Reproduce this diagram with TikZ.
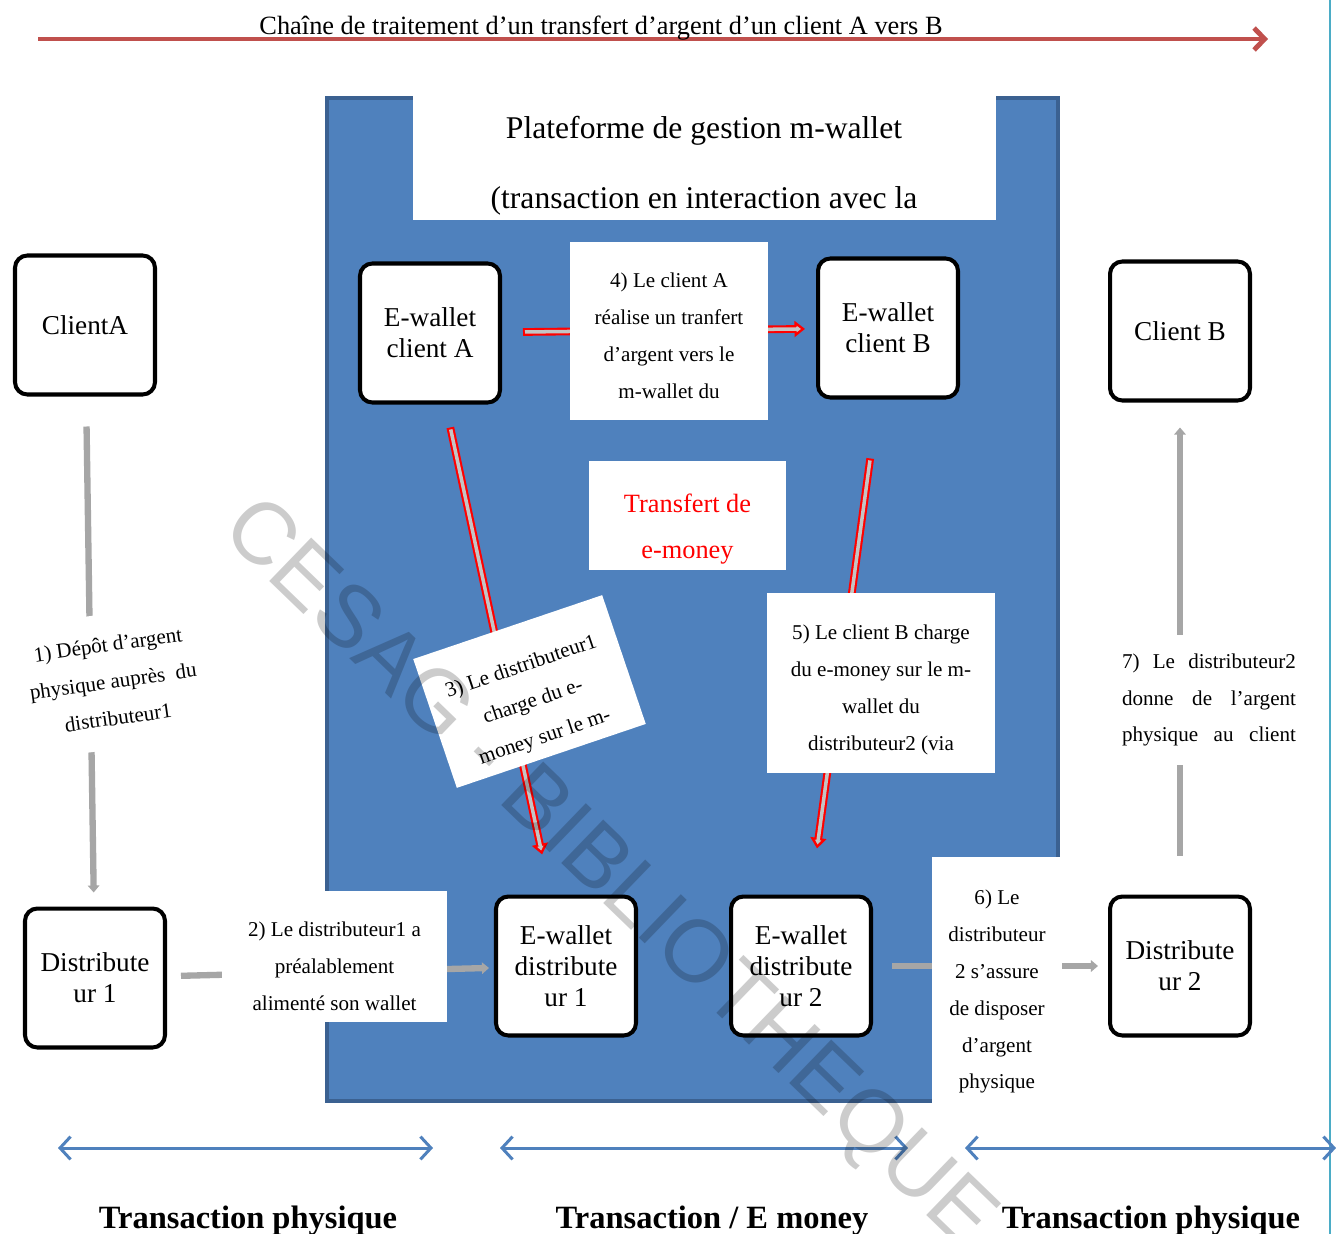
\documentclass[tikz,border=0pt]{standalone}
\usepackage{fontspec}
\setmainfont{Liberation Serif}
\newfontfamily\markfont{Liberation Sans}
\usepackage{xcolor}
\usepackage{tikz}
\usetikzlibrary{arrows.meta}

\definecolor{platblue}{HTML}{4F81BD}
\definecolor{platedge}{HTML}{3B6191}
\definecolor{chainred}{HTML}{C0504D}
\definecolor{linkgrey}{HTML}{A6A6A6}
\definecolor{innergrey}{HTML}{C4C4C4}
\definecolor{sidecyan}{HTML}{4BACC6}

\newcommand{\toppad}[1]{\rule{0pt}{#1}}

\tikzset{
  wbox/.style={draw=black, line width=2.3pt, rounded corners=7pt, fill=white,
    minimum width=2.8cm, minimum height=2.78cm, align=center,
    font=\fontsize{15.5}{17.5}\selectfont},
  stepbox/.style={fill=white, inner sep=0pt, align=center,
    font=\fontsize{12}{21}\selectfont},
  greyarrow/.style={draw=linkgrey, line width=3.6pt, -{Triangle[length=4pt,width=6.5pt]}},
  redout/.style={draw=red, line width=4.4pt, -{Triangle[length=6pt,width=9pt]}},
  redin/.style={draw=innergrey, line width=2pt, -{Triangle[length=2.5pt,width=3.5pt]}},
  chainarrow/.style={draw=chainred, line width=2.8pt, -{Straight Barb[length=6pt,width=12.5pt]}},
  spanarrow/.style={draw=platblue, line width=1.7pt,
    {Straight Barb[length=6pt,width=13pt]}-{Straight Barb[length=6pt,width=13pt]}},
  spanlabel/.style={font=\fontsize{18.5}{20}\selectfont\bfseries},
}

\begin{document}
\begin{tikzpicture}[x=0.02cm, y=-0.02cm]
\useasboundingbox (0,0) rectangle (1336,1234);
\fill[white] (0,0) rectangle (1336,1234);
\draw[sidecyan, line width=1.6pt] (1330,0) -- (1330,1234);

\coordinate (chainstart) at (38,39);
\coordinate (chainend) at (1268,39);
\draw[chainarrow] (chainstart) -- (chainend);
\node[font=\fontsize{15}{17}\selectfont] (chain) at (601,28) {Chaîne de traitement d’un transfert d’argent d’un client A vers B};

\draw[fill=platblue, draw=platedge, line width=2pt] (327,98) rectangle (1058,1101);
\fill[white] (413,94) rectangle (996,220);
\node[font=\fontsize{18}{20}\selectfont] (plattitle) at (704,131) {Plateforme de gestion m-wallet};
\node[font=\fontsize{18}{20}\selectfont] (platsub) at (704,201) {(transaction en interaction avec la};

\node[wbox] (clientA) at (85,325) {ClientA};
\node[wbox] (ewA) at (430,333) {E-wallet\\client A};
\node[wbox] (ewB) at (888,328) {E-wallet\\client B};
\node[wbox] (clientB) at (1180,331) {Client B};
\node[wbox] (distA) at (95,978) {Distribute\\ur 1};
\node[wbox] (ewdA) at (566,966) {E-wallet\\distribute\\ur 1};
\node[wbox] (ewdB) at (801,966) {E-wallet\\distribute\\ur 2};
\node[wbox] (distB) at (1180,966) {Distribute\\ur 2};

\draw[greyarrow, shorten <=0.6cm, shorten >=0.28cm] (clientA) -- (distA);
\draw[greyarrow, shorten <=0.28cm, shorten >=0.1cm] (distA) -- (ewdA);
\draw[greyarrow, shorten <=0.38cm, shorten >=0.2cm] (ewdB) -- (distB);
\draw[greyarrow, shorten <=0.78cm, shorten >=0.5cm] (distB) -- (clientB);

\draw[redout, shorten <=0.42cm, shorten >=0.22cm] (ewA) -- (ewB);
\draw[redin, shorten <=0.46cm, shorten >=0.3cm] (ewA) -- (ewB);
\draw[redout, shorten <=0.47cm, shorten >=0.82cm] (ewA) -- (ewdA);
\draw[redin, shorten <=0.51cm, shorten >=0.9cm] (ewA) -- (ewdA);
\draw[redout, shorten <=1.19cm, shorten >=0.93cm] (ewB) -- (ewdB);
\draw[redin, shorten <=1.23cm, shorten >=1.01cm] (ewB) -- (ewdB);

\node[stepbox, minimum width=3.96cm, minimum height=3.56cm] (stepfour) at (669,331) {\toppad{13.8pt}4) Le client A\\réalise un tranfert\\d’argent vers le\\m-wallet du};
\node[stepbox, minimum width=3.94cm, minimum height=2.18cm, text=red, font=\fontsize{15}{26.5}\selectfont] (emoney) at (687.5,515.5) {\toppad{26pt}Transfert de\\e-money};
\node[stepbox, rotate=18.7, minimum width=3.99cm, minimum height=2.72cm] (stepthree) at (529.5,691.5) {\toppad{21.5pt}3) Le distributeur1\\charge du e-\\money sur le m-};
\node[stepbox, minimum width=4.56cm, minimum height=3.6cm] (stepfive) at (881,683) {\toppad{16.2pt}5) Le client B charge\\du e-money sur le m-\\wallet du\\distributeur2 (via};
\node[stepbox, minimum width=4.5cm, minimum height=2.62cm] (steptwo) at (334.5,956.5) {\toppad{19.6pt}2) Le distributeur1 a\\préalablement\\alimenté son wallet};
\node[stepbox, minimum width=2.6cm, minimum height=4.96cm] (stepsix) at (997,981) {\toppad{20.5pt}6) Le\\distributeur\\2 s’assure\\de disposer\\d’argent\\physique};
\node[stepbox, rotate=8, inner sep=3pt, minimum height=2.7cm] (stepone) at (113,681) {1) Dépôt d’argent\\physique auprès \ du\\distributeur1};
\node[stepbox, align=left, minimum height=2.62cm] (stepseven) at (1209,700) {\makebox[3.48cm][s]{7) Le distributeur2}\\\makebox[3.48cm][s]{donne de l’argent}\\\makebox[3.48cm][s]{physique au client}};

\coordinate (spanAl) at (58,1148);
\coordinate (spanAr) at (433,1148);
\coordinate (spanBl) at (500,1148);
\coordinate (spanBr) at (908,1148);
\coordinate (spanCl) at (965,1148);
\coordinate (spanCr) at (1336,1148);
\draw[spanarrow] (spanAl) -- (spanAr);
\draw[spanarrow] (spanBl) -- (spanBr);
\draw[spanarrow] (spanCl) -- (spanCr);
\node[spanlabel] (spanAtext) at (248,1221) {Transaction physique};
\node[spanlabel] (spanBtext) at (712,1221) {Transaction / E money};
\node[spanlabel] (spanCtext) at (1151,1221) {Transaction physique};

\node[rotate=-44, opacity=0.2, font=\markfont\fontsize{50}{52}\selectfont] (watermark) at (607,876) {CESAG - BIBLIOTHEQUE};
\end{tikzpicture}
\end{document}
